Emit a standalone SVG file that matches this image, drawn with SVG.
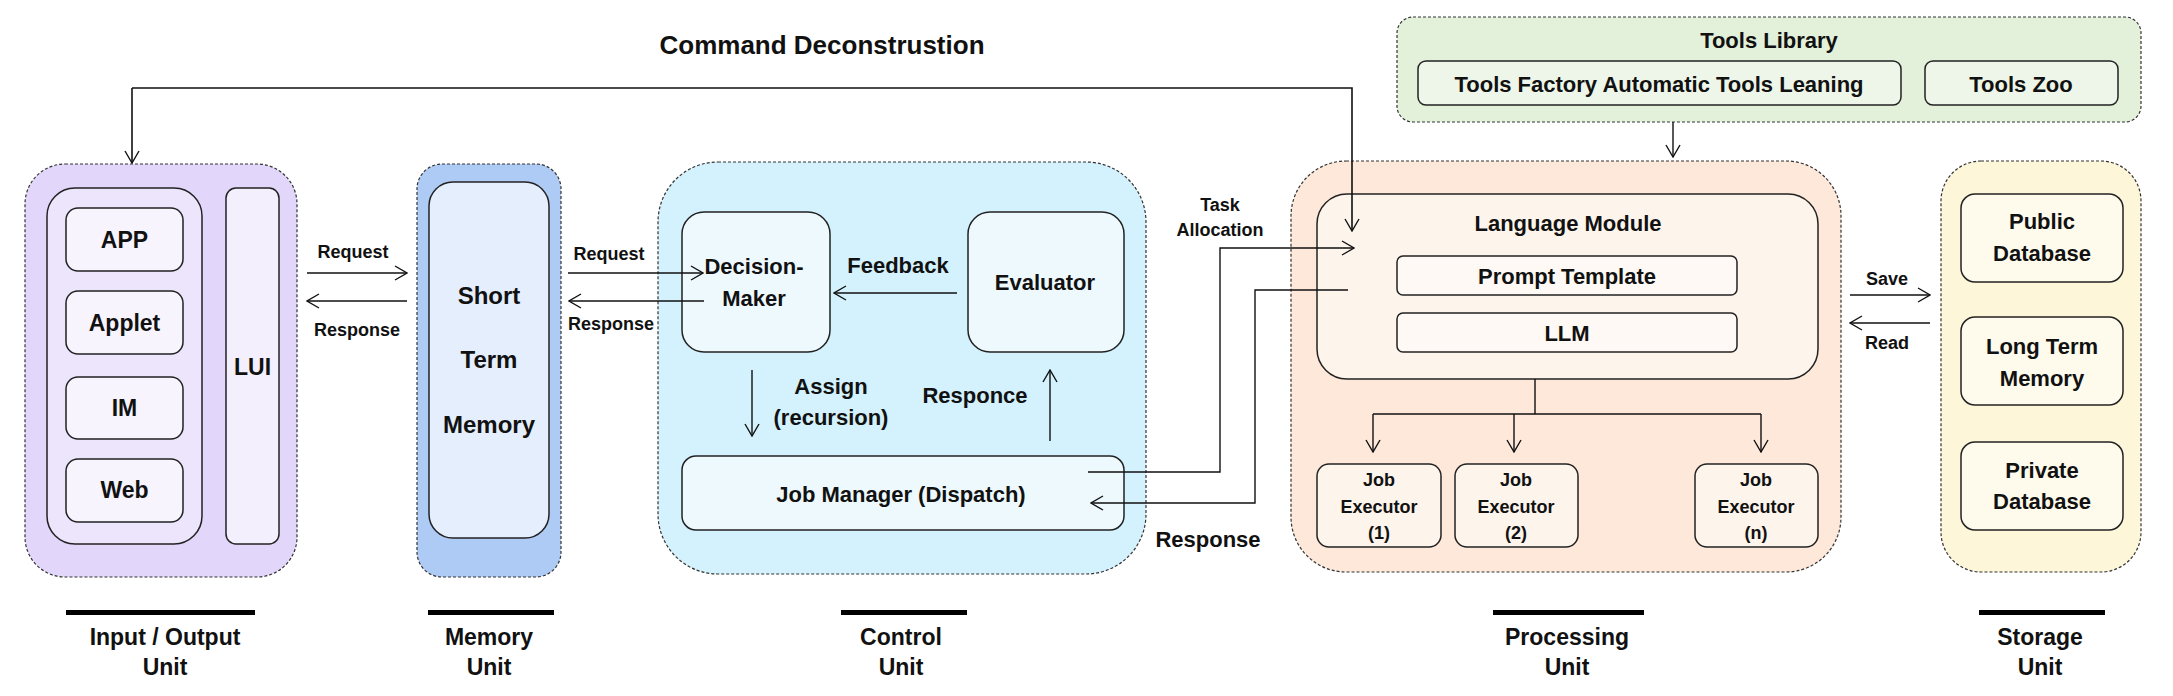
<svg xmlns="http://www.w3.org/2000/svg" width="2173" height="696" viewBox="0 0 2173 696">
<style>
text{font-family:"Liberation Sans",Arial,sans-serif;font-weight:bold;fill:#111;text-anchor:middle}
.t18{font-size:18px}.t22{font-size:22px}.t23{font-size:23px}.t24{font-size:24px}
.outer{stroke:#333;stroke-width:1.2;stroke-dasharray:3 2}
.box{stroke:#222;stroke-width:1.5}
.c{fill:none;stroke:#111;stroke-width:1.4}
</style>
<defs>
<marker id="a" viewBox="0 0 14 16" refX="13" refY="8" markerWidth="14" markerHeight="16" orient="auto" markerUnits="userSpaceOnUse">
<path d="M1,1 L13,8 L1,15" fill="none" stroke="#111" stroke-width="1.4"/>
</marker>
</defs>
<rect width="2173" height="696" fill="#fff"/>
<text class="t24" x="822" y="54" style="font-size:26px">Command Deconstrustion</text>

<g id="io-unit">
<rect class="outer" x="25" y="164" width="272" height="413" rx="40" fill="#e2d7fa"/>
<rect class="box" x="47" y="188" width="155" height="356" rx="28" fill="#ece5fc"/>
<rect class="box" x="66" y="208" width="117" height="63" rx="12" fill="#f7f4fe"/>
<text class="t23" x="124.5" y="248">APP</text>
<rect class="box" x="66" y="291" width="117" height="63" rx="12" fill="#f7f4fe"/>
<text class="t23" x="124.5" y="331">Applet</text>
<rect class="box" x="66" y="377" width="117" height="62" rx="12" fill="#f7f4fe"/>
<text class="t23" x="124.5" y="416">IM</text>
<rect class="box" x="66" y="459" width="117" height="63" rx="12" fill="#f7f4fe"/>
<text class="t23" x="124.5" y="498">Web</text>
<rect class="box" x="226" y="188" width="53" height="356" rx="10" fill="#f3effd"/>
<text class="t23" x="252.5" y="375">LUI</text>
</g>

<g id="memory-unit">
<rect class="outer" x="417" y="164" width="144" height="413" rx="25" fill="#aecbf6"/>
<rect class="box" x="429" y="182" width="120" height="356" rx="24" fill="#e5eefd"/>
<text class="t24" x="489" y="304">Short</text>
<text class="t24" x="489" y="368">Term</text>
<text class="t24" x="489" y="433">Memory</text>
</g>

<g id="control-unit">
<rect class="outer" x="658" y="162" width="488" height="412" rx="60" fill="#d3f2fd"/>
<rect class="box" x="682" y="212" width="148" height="140" rx="22" fill="#eef9fe"/>
<text class="t22" x="754" y="274">Decision-</text>
<text class="t22" x="754" y="306">Maker</text>
<rect class="box" x="968" y="212" width="156" height="140" rx="22" fill="#eef9fe"/>
<text class="t22" x="1045" y="290">Evaluator</text>
<rect class="box" x="682" y="456" width="442" height="74" rx="14" fill="#eef9fe"/>
<text class="t22" x="901" y="502">Job Manager (Dispatch)</text>
</g>

<g id="tools-library">
<rect class="outer" x="1397" y="17" width="744" height="105" rx="16" fill="#e3f0da"/>
<text class="t22" x="1769" y="48">Tools Library</text>
<rect class="box" x="1418" y="61" width="483" height="44" rx="8" fill="#eef6e9"/>
<text class="t22" x="1659" y="92">Tools Factory Automatic Tools Leaning</text>
<rect class="box" x="1925" y="61" width="193" height="44" rx="8" fill="#eef6e9"/>
<text class="t22" x="2021" y="92">Tools Zoo</text>
</g>

<g id="processing-unit">
<rect class="outer" x="1291" y="161" width="550" height="411" rx="55" fill="#fde8d9"/>
<rect class="box" x="1317" y="194" width="501" height="185" rx="30" fill="#fdf4ec"/>
<text class="t22" x="1568" y="231">Language Module</text>
<rect class="box" x="1397" y="256" width="340" height="39" rx="6" fill="#fef9f4"/>
<text class="t22" x="1567" y="284">Prompt Template</text>
<rect class="box" x="1397" y="313" width="340" height="39" rx="6" fill="#fef9f4"/>
<text class="t22" x="1567" y="341">LLM</text>
<rect class="box" x="1317" y="464" width="124" height="83" rx="12" fill="#fdf4ec"/>
<text class="t18" x="1379" y="486">Job</text><text class="t18" x="1379" y="513">Executor</text><text class="t18" x="1379" y="539">(1)</text>
<rect class="box" x="1455" y="464" width="123" height="83" rx="12" fill="#fdf4ec"/>
<text class="t18" x="1516" y="486">Job</text><text class="t18" x="1516" y="513">Executor</text><text class="t18" x="1516" y="539">(2)</text>
<rect class="box" x="1695" y="464" width="123" height="83" rx="12" fill="#fdf4ec"/>
<text class="t18" x="1756" y="486">Job</text><text class="t18" x="1756" y="513">Executor</text><text class="t18" x="1756" y="539">(n)</text>
</g>

<g id="storage-unit">
<rect class="outer" x="1941" y="161" width="200" height="411" rx="40" fill="#fdf6d9"/>
<rect class="box" x="1961" y="194" width="162" height="88" rx="14" fill="#fefbed"/>
<text class="t22" x="2042" y="229">Public</text><text class="t22" x="2042" y="261">Database</text>
<rect class="box" x="1961" y="317" width="162" height="88" rx="14" fill="#fefbed"/>
<text class="t22" x="2042" y="354">Long Term</text><text class="t22" x="2042" y="386">Memory</text>
<rect class="box" x="1961" y="442" width="162" height="88" rx="14" fill="#fefbed"/>
<text class="t22" x="2042" y="478">Private</text><text class="t22" x="2042" y="509">Database</text>
</g>

<g id="connectors">
<path class="c" d="M132,88 H1352 V231" marker-end="url(#a)" style="stroke-width:1.6"/>
<path class="c" d="M132,88 V163" marker-end="url(#a)" style="stroke-width:1.6"/>
<path class="c" d="M307,273 H407" marker-end="url(#a)"/>
<path class="c" d="M407,301 H307" marker-end="url(#a)"/>
<text class="t18" x="353" y="258">Request</text>
<text class="t18" x="357" y="336">Response</text>
<path class="c" d="M568,273 H703" marker-end="url(#a)"/>
<path class="c" d="M704,301 H569" marker-end="url(#a)"/>
<text class="t18" x="609" y="260">Request</text>
<text class="t18" x="611" y="330">Response</text>
<path class="c" d="M957,293 H834" marker-end="url(#a)"/>
<text class="t22" x="898" y="273">Feedback</text>
<path class="c" d="M752,370 V436" marker-end="url(#a)"/>
<text class="t22" x="831" y="394">Assign</text>
<text class="t22" x="831" y="425">(recursion)</text>
<path class="c" d="M1050,441 V370" marker-end="url(#a)"/>
<text class="t22" x="975" y="403">Responce</text>
<path class="c" d="M1088,472 H1220 V248 H1354" marker-end="url(#a)"/>
<text class="t18" x="1220" y="211">Task</text>
<text class="t18" x="1220" y="236">Allocation</text>
<path class="c" d="M1348,290 H1255 V503 H1091" marker-end="url(#a)"/>
<text class="t22" x="1208" y="547">Response</text>
<path class="c" d="M1673,122 V157" marker-end="url(#a)"/>
<path class="c" d="M1535,379 V414 M1373,414 H1761"/>
<path class="c" d="M1373,414 V452" marker-end="url(#a)"/>
<path class="c" d="M1514,414 V452" marker-end="url(#a)"/>
<path class="c" d="M1761,414 V452" marker-end="url(#a)"/>
<path class="c" d="M1850,295 H1930" marker-end="url(#a)"/>
<path class="c" d="M1930,323 H1850" marker-end="url(#a)"/>
<text class="t18" x="1887" y="285">Save</text>
<text class="t18" x="1887" y="349">Read</text>
</g>

<g id="unit-labels">
<rect x="66" y="610" width="189" height="5" fill="#000"/>
<rect x="428" y="610" width="126" height="5" fill="#000"/>
<rect x="841" y="610" width="126" height="5" fill="#000"/>
<rect x="1493" y="610" width="151" height="5" fill="#000"/>
<rect x="1979" y="610" width="126" height="5" fill="#000"/>
<text class="t23" x="165" y="645">Input / Output</text><text class="t23" x="165" y="675">Unit</text>
<text class="t23" x="489" y="645">Memory</text><text class="t23" x="489" y="675">Unit</text>
<text class="t23" x="901" y="645">Control</text><text class="t23" x="901" y="675">Unit</text>
<text class="t23" x="1567" y="645">Processing</text><text class="t23" x="1567" y="675">Unit</text>
<text class="t23" x="2040" y="645">Storage</text><text class="t23" x="2040" y="675">Unit</text>
</g>
</svg>
